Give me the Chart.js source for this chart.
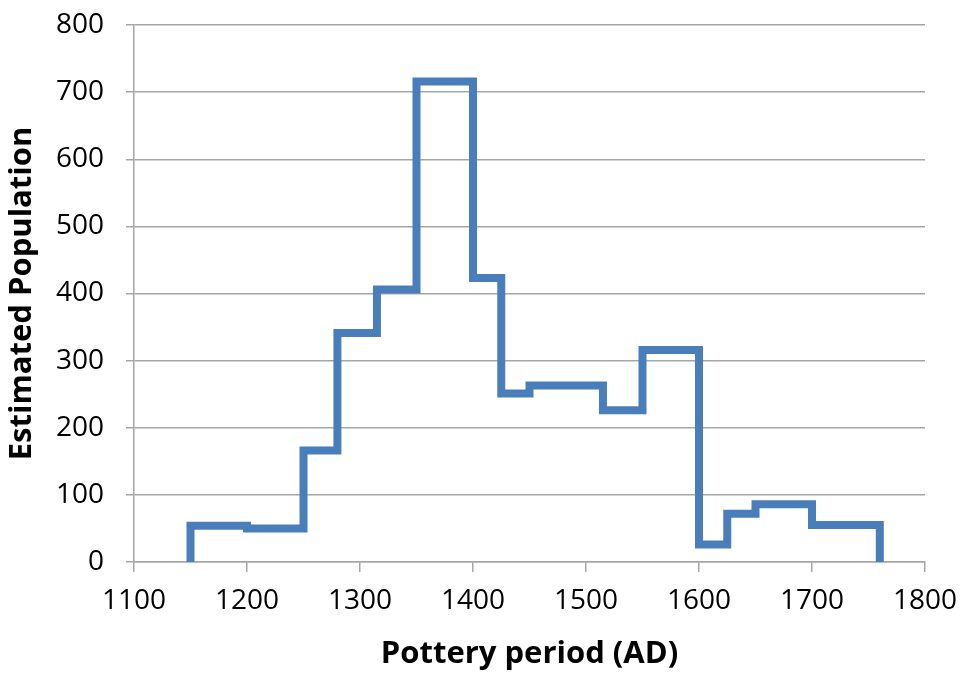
<!DOCTYPE html>
<html>
<head>
<meta charset="utf-8">
<script src="https://cdn.jsdelivr.net/npm/chart.js@4/dist/chart.umd.min.js"></script>
<style>
  html, body { margin: 0; padding: 0; background: #fff; }
  #wrap { width: 962px; height: 674px; }
</style>
</head>
<body>
<div id="wrap"><canvas id="chart" width="962" height="674"></canvas></div>
<script>
// period boundaries (AD) and the population estimate held over each period
const periodEdges = [1150, 1200, 1250, 1280, 1315, 1350, 1400, 1425, 1450, 1515, 1550, 1600, 1625, 1650, 1700, 1760];
const population = [54, 50, 166, 341, 406, 716, 423, 251, 263, 226, 316, 26, 72, 86, 55];
const xTicks = [1100, 1200, 1300, 1400, 1500, 1600, 1700, 1800];
const yTicks = [0, 100, 200, 300, 400, 500, 600, 700, 800];

// stepped 'before': horizontal at previous value, then vertical at the new edge
var points = [{x: periodEdges[0], y: 0}];
for (var i = 0; i < population.length; i++) {
    points.push({x: periodEdges[i], y: population[i]});
}
points.push({x: periodEdges[periodEdges.length - 1], y: 0});

const gridGray = '#a6a6a6';
const fontFam = '"Open Sans", Lato, sans-serif';

new Chart(document.getElementById('chart'), {
    type: 'line',
    data: {
        datasets: [{
            data: points,
            stepped: 'before',
            borderColor: '#4a7ebb',
            borderWidth: 8,
            borderJoinStyle: 'miter',
            pointRadius: 0,
            fill: false
        }]
    },
    options: {
        responsive: false,
        animation: false,
        layout: { padding: { top: 25, right: 37, left: 0, bottom: 0 } },
        plugins: { legend: { display: false }, tooltip: { enabled: false } },
        scales: {
            x: {
                type: 'linear',
                min: 1100,
                max: 1800,
                afterBuildTicks: function(scale) {
                    scale.ticks = xTicks.map(v => ({value: v}));
                },
                afterFit: function(scale) {
                    scale.height = 112;
                    scale.paddingLeft = 0;
                    scale.paddingRight = 0;
                },
                grid: {
                    drawOnChartArea: false,
                    color: gridGray,
                    lineWidth: 1.5,
                    tickLength: 10
                },
                border: { color: gridGray, width: 1.5 },
                ticks: {
                    color: '#000',
                    font: { family: fontFam, size: 28 },
                    padding: 12,
                    maxRotation: 0,
                    callback: function(value) { return String(value); }
                },
                title: {
                    display: true,
                    text: 'Pottery period (AD)',
                    color: '#000',
                    font: { family: fontFam, size: 31, weight: 'bold' },
                    padding: { top: 0, bottom: 1 }
                }
            },
            y: {
                min: 0,
                max: 800,
                afterBuildTicks: function(scale) {
                    scale.ticks = yTicks.map(v => ({value: v}));
                },
                afterFit: function(scale) {
                    scale.width = 134;
                    scale.paddingTop = 0;
                    scale.paddingBottom = 0;
                },
                grid: {
                    color: gridGray,
                    lineWidth: 1.5,
                    tickLength: 8
                },
                border: { color: gridGray, width: 1.5 },
                ticks: {
                    color: '#000',
                    font: { family: fontFam, size: 28 },
                    padding: 22,
                    callback: function(value) { return String(value); }
                },
                title: {
                    display: true,
                    text: 'Estimated Population',
                    color: '#000',
                    font: { family: fontFam, size: 31, weight: 'bold' },
                    padding: { top: 4, bottom: 0 }
                }
            }
        }
    }
});
</script>
</body>
</html>
